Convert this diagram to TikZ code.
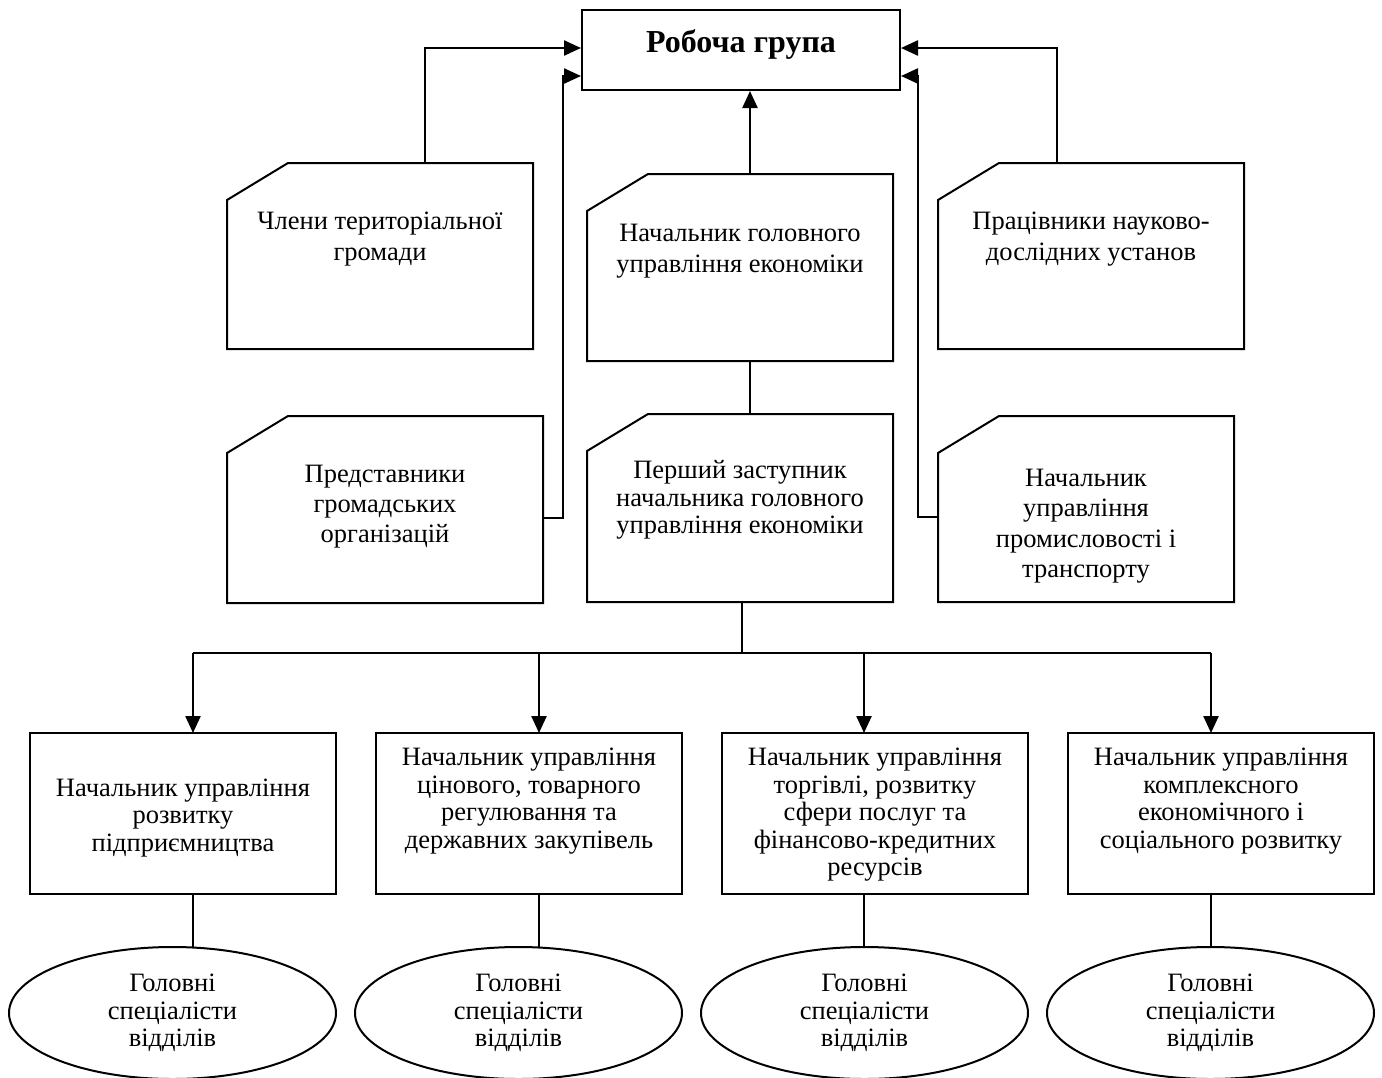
\documentclass[tikz,border=0pt]{standalone}
\usepackage{fontspec}
\setmainfont{Liberation Serif}
\usetikzlibrary{arrows.meta,shapes.geometric}
\tikzset{
  ln/.style={line width=2pt, black},
  arr/.style={line width=2.4pt, -{Triangle[length=17pt,width=15pt]}},
  cardbox/.style={rectangle, inner sep=0pt, outer sep=0pt},
  plainbox/.style={rectangle, draw, line width=2pt, inner sep=0pt, outer sep=0pt, minimum width=306pt, minimum height=161pt},
  oval/.style={ellipse, draw, line width=2pt, inner sep=0pt, outer sep=0pt, minimum width=327pt, minimum height=132pt, align=center, font=\fontsize{26.5}{27.5}\selectfont},
  cardtxt/.style={align=center, inner sep=0pt, font=\fontsize{26.5}{31}\selectfont},
  boxtxt/.style={align=center, inner sep=0pt, font=\fontsize{26.5}{27.5}\selectfont},
}
\newcommand{\cardoutline}[1]{\draw[ln, line join=miter] (#1.south west) -- ([yshift=-37pt]#1.north west) -- ([xshift=61pt]#1.north west) -- (#1.north east) -- (#1.south east) -- cycle;}
\begin{document}
\begin{tikzpicture}[x=1pt, y=-1pt]
\useasboundingbox (0,0) rectangle (1382,1077);
\clip (0,0) rectangle (1382,1077);
\fill[white] (0,0) rectangle (1382,1077);

% title
\node[rectangle, draw, line width=2pt, inner sep=0pt, minimum width=318pt, minimum height=80pt] (title) at (741,50) {};
\node[inner sep=0pt, font=\fontsize{32}{36}\selectfont\bfseries] (titlet) at (741,44) {Робоча група};

% cards
\node[cardbox, minimum width=306pt, minimum height=186pt] (L1) at (380,256) {};
\node[cardbox, minimum width=306pt, minimum height=187pt] (C1) at (740,267.5) {};
\node[cardbox, minimum width=306pt, minimum height=186pt] (R1) at (1091,256) {};
\node[cardbox, minimum width=316pt, minimum height=187pt] (L2) at (385,509.5) {};
\node[cardbox, minimum width=306pt, minimum height=188pt] (C2) at (740,508) {};
\node[cardbox, minimum width=296pt, minimum height=186pt] (R2) at (1086,509) {};
\cardoutline{L1}
\cardoutline{C1}
\cardoutline{R1}
\cardoutline{L2}
\cardoutline{C2}
\cardoutline{R2}

\node[cardtxt] (L1t) at (380,239) {Члени територіальної\\громади};
\node[cardtxt] (C1t) at (740,251) {Начальник головного\\управління економіки};
\node[cardtxt] (R1t) at (1091,239) {Працівники науково-\\дослідних установ};
\node[cardtxt, font=\fontsize{26.5}{30}\selectfont] (L2t) at (385,507) {Представники\\громадських\\організацій};
\node[boxtxt] (C2t) at (740,500) {Перший заступник\\начальника головного\\управління економіки};
\node[cardtxt, font=\fontsize{26.5}{30.5}\selectfont] (R2t) at (1086,526) {Начальник\\управління\\промисловості і\\транспорту};

% bottom boxes
\node[plainbox] (B1) at (183,813.5) {};
\node[plainbox] (B2) at (529,813.5) {};
\node[plainbox] (B3) at (875,813.5) {};
\node[plainbox] (B4) at (1221,813.5) {};
\node[boxtxt] (B1t) at (183,818) {Начальник управління\\розвитку\\підприємництва};
\node[boxtxt] (B2t) at (529,801) {Начальник управління\\цінового, товарного\\регулювання та\\державних закупівель};
\node[boxtxt] (B3t) at (875,815) {Начальник управління\\торгівлі, розвитку\\сфери послуг та\\фінансово-кредитних\\ресурсів};
\node[boxtxt] (B4t) at (1221,801) {Начальник управління\\комплексного\\економічного і\\соціального розвитку};

% ellipses
\node[oval] (E1) at (172.5,1013) {Головні\\спеціалісти\\відділів};
\node[oval] (E2) at (518.5,1013) {Головні\\спеціалісти\\відділів};
\node[oval] (E3) at (864.5,1013) {Головні\\спеціалісти\\відділів};
\node[oval] (E4) at (1210.5,1013) {Головні\\спеціалісти\\відділів};

% connectors to title
\draw[arr] ([xshift=45pt]L1.north) |- ([yshift=2pt]title.west);
\draw[arr] ([xshift=-34pt]R1.north) |- ([yshift=2pt]title.east);
\draw[arr] ([yshift=-8.5pt]L2.east) -- ++(20,0) |- ([yshift=-26pt]title.west);
\draw[arr] ([yshift=-8pt]R2.west) -- ++(-20,0) |- ([yshift=-26pt]title.east);
\draw[arr] ([xshift=10pt]C1.north) -- ([xshift=10pt]C1.north |- title.south);
\draw[ln] ([xshift=10pt]C1.south) -- ([xshift=10pt]C1.south |- C2.north);

% bus
\coordinate (bus) at (742,653);
\draw[ln] ([xshift=2pt]C2.south) -- (bus);
\draw[ln] ([xshift=10pt]B1.north |- bus) -- ([xshift=-10pt]B4.north |- bus);
\draw[arr] ([xshift=10pt]B1.north |- bus) -- ([xshift=10pt]B1.north);
\draw[arr] ([xshift=10pt]B2.north |- bus) -- ([xshift=10pt]B2.north);
\draw[arr] ([xshift=-11pt]B3.north |- bus) -- ([xshift=-11pt]B3.north);
\draw[arr] ([xshift=-10pt]B4.north |- bus) -- ([xshift=-10pt]B4.north);

% boxes to ellipses
\draw[ln] ([xshift=10pt]B1.south) -- ([xshift=10pt]B1.south |- E1.north);
\draw[ln] ([xshift=10pt]B2.south) -- ([xshift=10pt]B2.south |- E2.north);
\draw[ln] ([xshift=-11pt]B3.south) -- ([xshift=-11pt]B3.south |- E3.north);
\draw[ln] ([xshift=-10pt]B4.south) -- ([xshift=-10pt]B4.south |- E4.north);
\end{tikzpicture}
\end{document}
